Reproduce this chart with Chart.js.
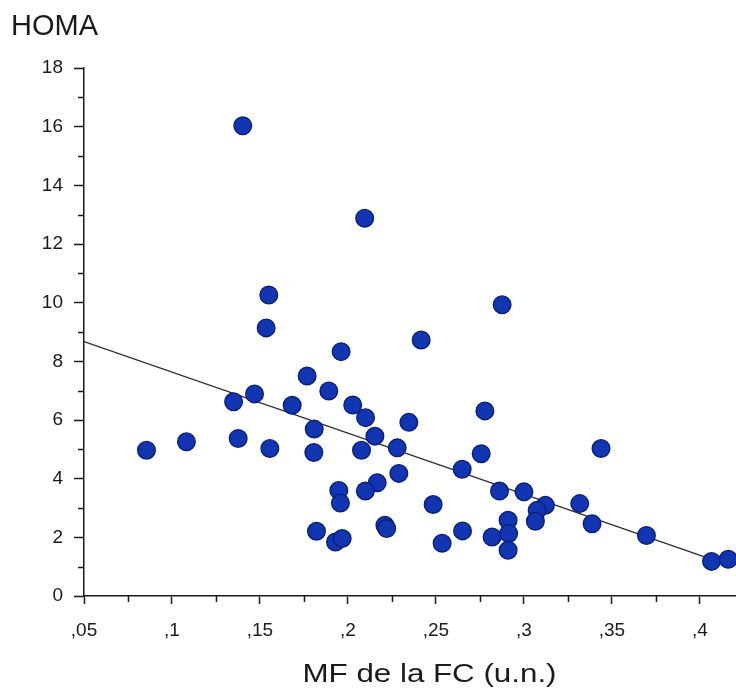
<!DOCTYPE html>
<html>
<head>
<meta charset="utf-8">
<script src="https://cdn.jsdelivr.net/npm/chart.js@4.4.0/dist/chart.umd.min.js"></script>
<style>
  html, body { margin: 0; padding: 0; background: #ffffff; }
  #wrap { width: 736px; height: 693px; position: relative; }
</style>
</head>
<body>
<div id="wrap"><canvas id="c" width="736" height="693"></canvas></div>
<script>
// ---- data ----
const mfValues = [
  0.1402, 0.2095, 0.1550, 0.2876, 0.1535, 0.1961, 0.2416, 0.1768, 0.1469, 0.1350,
  0.1683, 0.1891, 0.2027, 0.2100, 0.1808, 0.2346, 0.2778, 0.2153, 0.1376, 0.0855,
  0.1082, 0.1556, 0.1806, 0.2077, 0.2280, 0.3438, 0.2757, 0.2649, 0.2289, 0.2166,
  0.1948, 0.2099, 0.1957, 0.2861, 0.3000, 0.2484, 0.3122, 0.3075, 0.3317, 0.2910,
  0.3065, 0.3387, 0.2210, 0.2220, 0.1821, 0.2651, 0.2819, 0.2913, 0.3696, 0.1929,
  0.1967, 0.2535, 0.2910, 0.4066, 0.4161
];
const homaValues = [
  16.03, 12.88, 10.26, 9.93, 9.14, 8.33, 8.73, 7.50, 6.89, 6.62,
  6.50, 6.99, 6.51, 6.08, 5.69, 5.92, 6.31, 5.45, 5.37, 4.97,
  5.26, 5.03, 4.89, 4.97, 5.05, 5.03, 4.85, 4.32, 4.18, 3.86,
  3.60, 3.58, 3.17, 3.58, 3.55, 3.12, 3.09, 2.92, 3.15, 2.58,
  2.55, 2.46, 2.41, 2.30, 2.21, 2.22, 2.01, 2.13, 2.06, 1.84,
  1.96, 1.80, 1.56, 1.18, 1.25
];
const fitLineX = [0.05, 0.41];
const fitLineY = [8.67, 1.18];

const xTickValues = [0.05, 0.1, 0.15, 0.2, 0.25, 0.3, 0.35, 0.4];
const xTickLabels = [',05', ',1', ',15', ',2', ',25', ',3', ',35', ',4'];
const xMinorTicks = [0.075, 0.125, 0.175, 0.225, 0.275, 0.325, 0.375];
const yTickValues = [0, 2, 4, 6, 8, 10, 12, 14, 16, 18];
const yTickLabels = ['0', '2', '4', '6', '8', '10', '12', '14', '16', '18'];
const yMinorTicks = [1, 3, 5, 7, 9, 11, 13, 15, 17];

const yTitle = 'HOMA';
const xTitle = 'MF de la FC (u.n.)';
// ------------------------------------------------

const FONT = "'Liberation Sans', Arial, Helvetica, sans-serif";
const INK = '#1a1a1a';
Chart.defaults.font.family = FONT;

const points = mfValues.map((x, i) => ({ x: x, y: homaValues[i] }));
const linePts = fitLineX.map((x, i) => ({ x: x, y: fitLineY[i] }));

const extrasPlugin = {
  id: 'extras',
  afterDraw(chart) {
    const ctx = chart.ctx;
    const xs = chart.scales.x, ys = chart.scales.y;
    const area = chart.chartArea;
    ctx.save();
    ctx.strokeStyle = INK;
    ctx.lineWidth = 1.5;
    ctx.beginPath();
    xMinorTicks.forEach(v => {
      const px = Math.round(xs.getPixelForValue(v)) + 0.5;
      ctx.moveTo(px, area.bottom);
      ctx.lineTo(px, area.bottom + 6);
    });
    yMinorTicks.forEach(v => {
      const py = Math.round(ys.getPixelForValue(v)) + 0.5;
      ctx.moveTo(area.left - 6, py);
      ctx.lineTo(area.left, py);
    });
    ctx.stroke();

    ctx.fillStyle = INK;
    ctx.textBaseline = 'alphabetic';
    // y title (top-left, horizontal)
    ctx.font = '29px ' + FONT;
    ctx.textAlign = 'left';
    ctx.fillText(yTitle, 11, 35);

    // x title
    ctx.font = '26.5px ' + FONT;
    const w = ctx.measureText(xTitle).width;
    const target = 254;
    ctx.translate(302.5, 682);
    ctx.scale(target / w, 1);
    ctx.fillText(xTitle, 0, 0);
    ctx.restore();
  }
};

new Chart(document.getElementById('c'), {
  type: 'scatter',
  data: {
    datasets: [
      {
        label: 'HOMA',
        data: points,
        order: 1,
        pointRadius: 8.8,
        pointHoverRadius: 8.8,
        backgroundColor: '#1236b2',
        borderColor: '#0a1f7a',
        borderWidth: 1.4
      },
      {
        type: 'line',
        label: 'fit',
        data: linePts,
        order: 2,
        borderColor: '#2a2a2a',
        borderWidth: 1.3,
        pointRadius: 0,
        fill: false,
        tension: 0
      }
    ]
  },
  options: {
    responsive: false,
    animation: false,
    events: [],
    layout: { autoPadding: false, padding: { top: 68, left: 0, right: 0, bottom: 0 } },
    plugins: {
      legend: { display: false },
      tooltip: { enabled: false },
      title: { display: false }
    },
    scales: {
      x: {
        type: 'linear',
        position: 'bottom',
        min: 0.05,
        max: 0.4205,
        afterBuildTicks: s => { s.ticks = xTickValues.map(v => ({ value: v })); },
        afterFit: s => { s.height = 97; s.paddingRight = 0; s.paddingLeft = 0; },
        ticks: {
          autoSkip: false,
          maxRotation: 0,
          minRotation: 0,
          padding: 15,
          color: INK,
          font: { size: 19 },
          callback: (val, idx) => xTickLabels[idx]
        },
        grid: {
          display: true,
          drawOnChartArea: false,
          drawTicks: true,
          tickLength: 8,
          tickColor: INK,
          tickWidth: 1.5
        },
        border: { display: true, color: INK, width: 1.5 }
      },
      y: {
        type: 'linear',
        min: 0,
        max: 18,
        afterBuildTicks: s => { s.ticks = yTickValues.map(v => ({ value: v })); },
        afterFit: s => { s.width = 84; },
        ticks: {
          autoSkip: false,
          padding: 11,
          color: INK,
          font: { size: 19 },
          callback: (val, idx) => yTickLabels[idx]
        },
        grid: {
          display: true,
          drawOnChartArea: false,
          drawTicks: true,
          tickLength: 10,
          tickColor: INK,
          tickWidth: 1.5
        },
        border: { display: true, color: INK, width: 1.5 }
      }
    }
  },
  plugins: [extrasPlugin]
});
</script>
</body>
</html>
